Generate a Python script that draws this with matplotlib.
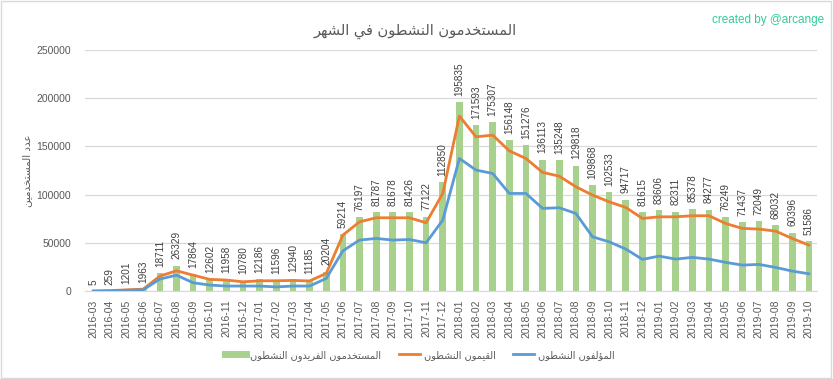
import matplotlib
matplotlib.use("Agg")
import matplotlib.pyplot as plt
from matplotlib.lines import Line2D
from matplotlib.patches import Rectangle

# ---------------- data ----------------
months = ["2016-03", "2016-04", "2016-05", "2016-06", "2016-07", "2016-08", "2016-09", "2016-10",
          "2016-11", "2016-12", "2017-01", "2017-02", "2017-03", "2017-04", "2017-05", "2017-06",
          "2017-07", "2017-08", "2017-09", "2017-10", "2017-11", "2017-12", "2018-01", "2018-02",
          "2018-03", "2018-04", "2018-05", "2018-06", "2018-07", "2018-08", "2018-09", "2018-10",
          "2018-11", "2018-12", "2019-01", "2019-02", "2019-03", "2019-04", "2019-05", "2019-06",
          "2019-07", "2019-08", "2019-09", "2019-10"]

unique_active = [5, 259, 1201, 1963, 18711, 26329, 17864, 12602, 11958, 10780, 12186, 11596,
                 12940, 11185, 20204, 59214, 76197, 81787, 81678, 81426, 77122, 112850, 195835,
                 171593, 175307, 156148, 151276, 136113, 135248, 129818, 109868, 102533, 94717,
                 81615, 83606, 82311, 85378, 84277, 76249, 71437, 72049, 68032, 60396, 51586]

curators = [0, 400, 1300, 2000, 15500, 21000, 16500, 12100, 11400, 9600, 10600, 10700,
            11000, 10500, 18300, 58000, 71700, 75900, 75900, 75900, 70700, 101100, 181200,
            159700, 161500, 145200, 137300, 122900, 119000, 108000, 99400, 92400, 86600,
            75200, 76900, 76900, 78000, 78000, 70000, 64900, 64200, 62100, 54500, 47600]

authors = [0, 200, 700, 1300, 12400, 16500, 8600, 6200, 5200, 5200, 5200, 4300,
           5200, 5200, 13100, 41700, 52800, 54500, 52800, 53400, 50000, 73500, 137300,
           125300, 121800, 101100, 101100, 85600, 86300, 80400, 56200, 51000, 43500,
           32800, 36200, 33100, 34900, 33100, 29700, 26900, 27600, 24500, 20700, 17900]

title_text = "المستخدمون النشطون في الشهر"
ylabel_text = "عدد المستخدمين"
legend_labels = ["المستخدمون الفريدون النشطون", "القيمون النشطون", "المؤلفون النشطون"]
credit_text = "created by @arcange"


# ------------- minimal Arabic shaping (no external libs) -------------
# forms: (isolated, final, initial, medial); None for right-joining letters
FORMS = {
    "\u0627": (0xFE8D, 0xFE8E, None, None),
    "\u0624": (0xFE85, 0xFE86, None, None),
    "\u062A": (0xFE95, 0xFE96, 0xFE97, 0xFE98),
    "\u062E": (0xFEA5, 0xFEA6, 0xFEA7, 0xFEA8),
    "\u062F": (0xFEA9, 0xFEAA, None, None),
    "\u0631": (0xFEAD, 0xFEAE, None, None),
    "\u0633": (0xFEB1, 0xFEB2, 0xFEB3, 0xFEB4),
    "\u0634": (0xFEB5, 0xFEB6, 0xFEB7, 0xFEB8),
    "\u0637": (0xFEC1, 0xFEC2, 0xFEC3, 0xFEC4),
    "\u0639": (0xFEC9, 0xFECA, 0xFECB, 0xFECC),
    "\u0641": (0xFED1, 0xFED2, 0xFED3, 0xFED4),
    "\u0642": (0xFED5, 0xFED6, 0xFED7, 0xFED8),
    "\u0644": (0xFEDD, 0xFEDE, 0xFEDF, 0xFEE0),
    "\u0645": (0xFEE1, 0xFEE2, 0xFEE3, 0xFEE4),
    "\u0646": (0xFEE5, 0xFEE6, 0xFEE7, 0xFEE8),
    "\u0647": (0xFEE9, 0xFEEA, 0xFEEB, 0xFEEC),
    "\u0648": (0xFEED, 0xFEEE, None, None),
    "\u064A": (0xFEF1, 0xFEF2, 0xFEF3, 0xFEF4),
}


def dual(ch):
    return ch in FORMS and FORMS[ch][2] is not None


def shape_ar(s):
    chars = list(s)
    out = []
    i = 0
    n = len(chars)
    while i < n:
        c = chars[i]
        if c not in FORMS:
            out.append(c)
            i += 1
            continue
        prev = chars[i - 1] if i > 0 else None
        joins_prev = prev is not None and dual(prev)
        # lam-alef ligature
        if c == "\u0644" and i + 1 < n and chars[i + 1] == "\u0627":
            out.append(chr(0xFEFC if joins_prev else 0xFEFB))
            i += 2
            continue
        nxt = chars[i + 1] if i + 1 < n else None
        joins_next = dual(c) and nxt is not None and nxt in FORMS
        iso, fin, ini, med = FORMS[c]
        if joins_prev and joins_next:
            code = med
        elif joins_prev:
            code = fin
        elif joins_next:
            code = ini
        else:
            code = iso
        out.append(chr(code))
        i += 1
    return "".join(reversed(out))


# ---------------- plot ----------------
FAM = ["Liberation Sans", "DejaVu Sans"]
AR = ["DejaVu Sans"]
plt.rcParams["font.family"] = FAM

GREEN = "#A9D18E"
ORANGE = "#ED7D31"
BLUE = "#5B9BD5"
TXT = "#595959"
GRID = "#D9D9D9"

fig = plt.figure(figsize=(8.33, 3.79), dpi=100)
ax = fig.add_axes([0.102, 0.232, 0.879, 0.637])

x = list(range(len(months)))
bars = ax.bar(x, unique_active, width=0.4, color=GREEN, zorder=2)
ax.plot(x, curators, color=ORANGE, lw=2.0, zorder=3, solid_joinstyle="round")
ax.plot(x, authors, color=BLUE, lw=2.0, zorder=3, solid_joinstyle="round")

ax.bar_label(bars, labels=[str(v) for v in unique_active], rotation=90, padding=4.5,
             fontsize=7.2, color="#404040", zorder=4)

ax.set_xlim(-0.5, len(months) - 0.5)
ax.set_ylim(0, 250000)
ax.set_yticks(range(0, 250001, 50000))
ax.set_yticklabels([str(v) for v in range(0, 250001, 50000)])
ax.set_xticks(x)
ax.set_xticklabels(months, rotation=90)
ax.tick_params(axis="both", length=0, colors=TXT, labelsize=7.5)
ax.tick_params(axis="x", pad=6)
ax.tick_params(axis="y", pad=10)
ax.grid(axis="y", color=GRID, lw=0.9, zorder=0)
ax.set_axisbelow(True)
for side in ["top", "right", "left"]:
    ax.spines[side].set_visible(False)
ax.spines["bottom"].set_color(GRID)

ax.set_ylabel(shape_ar(ylabel_text), family=AR, fontsize=7.5, color=TXT, labelpad=3)

fig.text(0.498, 0.918, shape_ar(title_text), family=AR, fontsize=10.5, color=TXT,
         ha="center", va="center")
fig.text(0.989, 0.947, credit_text, fontsize=8.5, color="#33CC99", ha="right", va="center")

handles = [Line2D([0], [0], color=GREEN, lw=5),
           Line2D([0], [0], color=ORANGE, lw=2),
           Line2D([0], [0], color=BLUE, lw=2)]
leg = fig.legend(handles, [shape_ar(t) for t in legend_labels], loc="center",
                 bbox_to_anchor=(0.504, 0.063), ncol=3, frameon=False,
                 prop={"family": AR, "size": 7}, handlelength=2.2,
                 handletextpad=0.4, columnspacing=1.8)
for t in leg.get_texts():
    t.set_color(TXT)

fig.add_artist(Rectangle((0.001, 0.002), 0.997, 0.995, transform=fig.transFigure,
                         fill=False, edgecolor=GRID, lw=1))

fig.savefig("out.png", dpi=100)
